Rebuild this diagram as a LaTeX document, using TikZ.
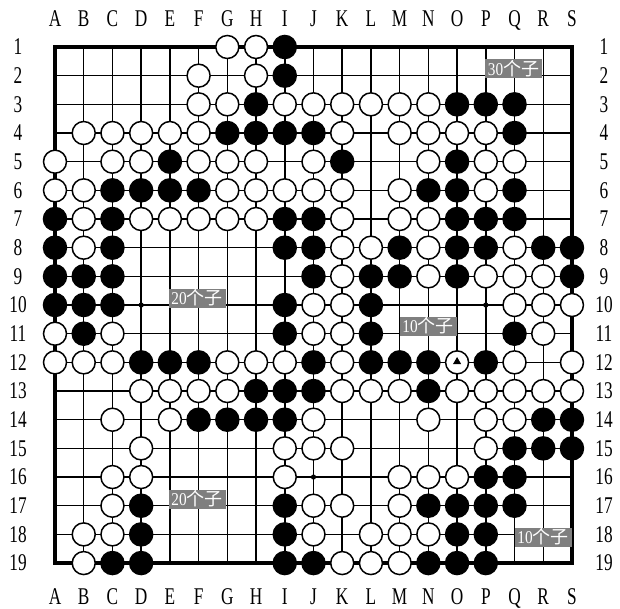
\documentclass[tikz,border=0pt]{standalone}
\usepackage{graphicx}
\usepackage{fontspec}
\setmainfont{Liberation Serif}
\newfontfamily\cjk{Noto Sans CJK SC}
\usetikzlibrary{shapes.geometric}
\definecolor{tagGray}{HTML}{7F7F7F}
\newcommand{\cnd}[1]{\scalebox{0.72}[1]{#1}}
\newcommand{\tagdig}[1]{\scalebox{0.85}[1]{#1}}
\begin{document}
\begin{tikzpicture}[x=1pt,y=-1pt,
  gridline/.style={line width=1.5pt},
  border/.style={line width=3.2pt, line cap=rect},
  wst/.style={circle, draw=black, fill=white, line width=1.5pt, minimum size=23pt, inner sep=0pt},
  bst/.style={circle, draw=black, fill=black, line width=1.5pt, minimum size=23pt, inner sep=0pt},
  coordlbl/.style={font=\fontsize{24}{24}\selectfont, inner sep=0pt},
  tag/.style={fill=tagGray, text=white, inner sep=0pt, minimum width=57pt, minimum height=19pt, font=\fontsize{18}{18}\selectfont},
  tri/.style={regular polygon, regular polygon sides=3, fill=black, minimum size=9.5pt, inner sep=0pt}
]
\useasboundingbox (0,0) rectangle (620,609);
\fill[white] (0,0) rectangle (620,609);
% grid
\foreach \i in {0,...,18} {
  \draw[gridline] ({55+\i*28.72},47) -- ({55+\i*28.72},563.06);
  \draw[gridline] (55,{47+\i*28.67}) -- (571.96,{47+\i*28.67});
}
\draw[border] (55,47) rectangle (571.96,563.06);
% star points
\foreach \c in {4,10,16} \foreach \r in {4,10,16}
  \fill ({55+(\c-1)*28.72},{47+(\r-1)*28.67}) circle (2.6);
% coordinate labels
\foreach \l [count=\c] in {A,B,C,D,E,F,G,H,I,J,K,L,M,N,O,P,Q,R,S} {
  \node[coordlbl, anchor=base] (top\c) at ({55+(\c-1)*28.72},27) {\cnd{\l}};
  \node[coordlbl, anchor=base] (bot\c) at ({55+(\c-1)*28.72},604) {\cnd{\l}};
}
\foreach \r in {1,...,19} {
  \node[coordlbl] (lft\r) at (18,{47+(\r-1)*28.67}) {\cnd{\r}};
  \node[coordlbl] (rgt\r) at (604,{47+(\r-1)*28.67}) {\cnd{\r}};
}
% white stones
\foreach \r/\cols in {
  1/{7,8}, 2/{6,8}, 3/{6,7,9,10,11,12,13,14}, 4/{2,3,4,5,6,11,13,14,15,16},
  5/{1,3,4,6,7,8,10,14,16,17}, 6/{1,2,7,8,9,10,11,13,16}, 7/{2,4,5,6,7,8,11,13,14},
  8/{2,11,12,14,17}, 9/{11,14,16,17,18}, 10/{10,11,17,18,19}, 11/{1,3,10,11,18},
  12/{1,2,3,7,8,9,11,17,19}, 13/{4,5,6,7,11,12,13,15,16,17,18,19},
  14/{3,5,10,14,16,17}, 15/{4,9,10,11,16}, 16/{3,4,9,13,14,15},
  17/{3,10,11,13}, 18/{2,3,10,12,13,14}, 19/{2,11,12,13}} {
  \foreach \c in \cols
    \node[wst] (w\c-\r) at ({55+(\c-1)*28.72},{47+(\r-1)*28.67}) {};
}
% black stones
\foreach \r/\cols in {
  1/{9}, 2/{9}, 3/{8,15,16,17}, 4/{7,8,9,10,17}, 5/{5,11,15},
  6/{3,4,5,6,14,15,17}, 7/{1,3,9,10,15,16,17}, 8/{1,3,9,10,13,15,16,18,19},
  9/{1,2,3,10,12,13,15,19}, 10/{1,2,3,9,12}, 11/{2,9,12,17},
  12/{4,5,6,10,12,13,14,16}, 13/{8,9,10,14}, 14/{6,7,8,9,18,19},
  15/{17,18,19}, 16/{16,17}, 17/{4,9,14,15,16,17}, 18/{4,9,15,16},
  19/{3,4,9,10,14,15,16}} {
  \foreach \c in \cols
    \node[bst] (b\c-\r) at ({55+(\c-1)*28.72},{47+(\r-1)*28.67}) {};
}
% marked stone O12
\node[wst] (w15-12) at ({55+14*28.72},{47+11*28.67}) {};
\node[tri] (mark) at ([yshift=0.6pt]w15-12.center) {};
% tags
\node[tag] (tag1) at (513.5,69) {\tagdig{30}{\cjk 个子}};
\node[tag] (tag2) at (197,298) {\tagdig{20}{\cjk 个子}};
\node[tag] (tag3) at (428,326) {\tagdig{10}{\cjk 个子}};
\node[tag] (tag4) at (197,499) {\tagdig{20}{\cjk 个子}};
\node[tag] (tag5) at (543,537) {\tagdig{10}{\cjk 个子}};
\end{tikzpicture}
\end{document}
